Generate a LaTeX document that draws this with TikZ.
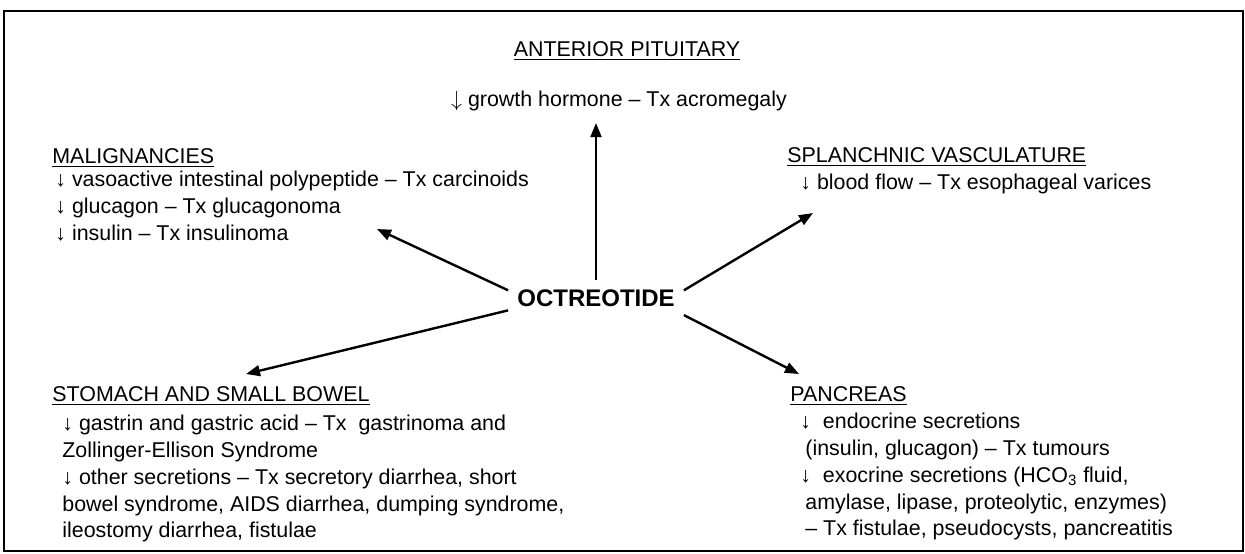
\documentclass[tikz,border=0pt]{standalone}
\usepackage{fontspec}
\setmainfont{Liberation Sans}
\usetikzlibrary{arrows.meta,positioning}
\tikzset{
  headtext/.style={
    inner sep=0pt,
    anchor=base west,
    font=\fontsize{10.7}{13.35}\selectfont
  },
  listtext/.style={
    inner sep=0pt,
    anchor=north west,
    align=left,
    font=\fontsize{10.7}{13.35}\selectfont
  },
  drugbox/.style={
    inner sep=0pt,
    minimum width=87.5pt,
    minimum height=17.5pt,
    font=\fontsize{12}{14}\selectfont\bfseries
  },
  effectarrow/.style={
    -{Triangle[length=7pt,width=5.4pt]},
    line width=1.2pt
  }
}

\begin{document}
\begin{tikzpicture}[x=0.5pt,y=-0.5pt]
\useasboundingbox (0,0) rectangle (1245,553);
\draw[line width=1pt] (4,11) rectangle (1243,551);

\node[drugbox] (oct) at (596,298) {OCTREOTIDE};

% anterior pituitary
\node[headtext, anchor=base] (pitHead) at (627,56) {\underline{ANTERIOR PITUITARY}};
\node[headtext, anchor=base] (pitList) at (619,106) {$\downarrow$ growth hormone -- Tx acromegaly};
\coordinate (pitTip) at (596,123);

% malignancies
\node[headtext] (malHead) at (52,163) {\underline{MALIGNANCIES}};
\node[listtext] (malList) at (55,171) {%
  ↓ vasoactive intestinal polypeptide -- Tx carcinoids\\
  ↓ glucagon -- Tx glucagonoma\\
  ↓ insulin -- Tx insulinoma};
\coordinate (malTip) at (377,229);

% splanchnic vasculature
\node[headtext] (splHead) at (787,162) {\underline{SPLANCHNIC VASCULATURE}};
\node[headtext] (splList) at (800,189) {↓ blood flow -- Tx esophageal varices};
\coordinate (splTip) at (813,213);

% stomach and small bowel
\node[headtext] (stoHead) at (52,401) {\underline{STOMACH AND SMALL BOWEL}};
\node[listtext] (stoList) at (62,415) {%
  ↓ gastrin and gastric acid -- Tx\ \ gastrinoma and\\
  Zollinger-Ellison Syndrome\\
  ↓ other secretions -- Tx secretory diarrhea, short\\
  bowel syndrome, AIDS diarrhea, dumping syndrome,\\
  ileostomy diarrhea, fistulae};
\coordinate (stoTip) at (246,374);

% pancreas
\node[headtext] (panHead) at (790,401) {\underline{PANCREAS}};
\node[listtext] (panList) at (800,413) {%
  ↓\ \ endocrine secretions\\
  \hspace{2.5pt}(insulin, glucagon) -- Tx tumours\\
  ↓\ \ exocrine secretions (HCO\textsubscript{3} fluid,\\
  \hspace{2.5pt}amylase, lipase, proteolytic, enzymes)\\
  \hspace{2.5pt}-- Tx fistulae, pseudocysts, pancreatitis};
\coordinate (panTip) at (799,374);

\draw[effectarrow] (oct.north) -- (pitTip);
\draw[effectarrow] (oct.175) -- (malTip);
\draw[effectarrow] (oct.5) -- (splTip);
\draw[effectarrow] (oct.188) -- (stoTip);
\draw[effectarrow] (oct.349) -- (panTip);
\end{tikzpicture}
\end{document}
